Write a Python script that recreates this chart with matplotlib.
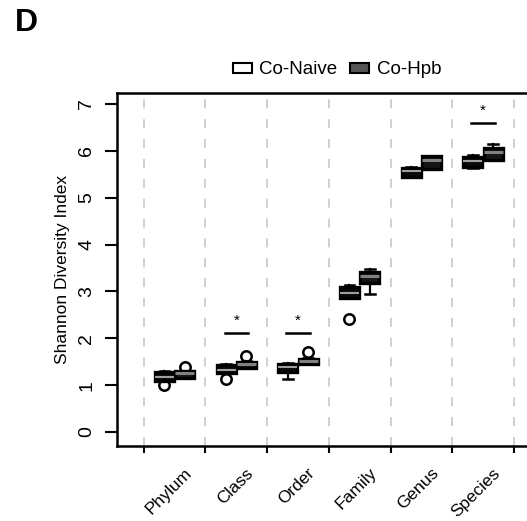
import numpy as np
import matplotlib.pyplot as plt
from matplotlib.patches import Patch
from matplotlib.transforms import blended_transform_factory

plt.rcParams["font.family"] = ["Liberation Sans", "DejaVu Sans"]

categories = ["Phylum", "Class", "Order", "Family", "Genus", "Species"]

# box stats (Co-Naive)
naive_whislo = [1.08, 1.25, 1.12, 2.86, 5.44, 5.64]
naive_q1 = [1.08, 1.25, 1.28, 2.86, 5.44, 5.65]
naive_med = [1.17, 1.33, 1.38, 2.97, 5.57, 5.78]
naive_q3 = [1.27, 1.42, 1.45, 3.09, 5.64, 5.86]
naive_whishi = [1.29, 1.44, 1.47, 3.14, 5.66, 5.91]
naive_fliers = [[1.00], [1.13], [], [2.40], [], []]

# Co-Hpb
hpb_whislo = [1.15, 1.37, 1.44, 2.95, 5.62, 5.80]
hpb_q1 = [1.15, 1.37, 1.44, 3.18, 5.62, 5.81]
hpb_med = [1.25, 1.46, 1.52, 3.33, 5.80, 5.97]
hpb_q3 = [1.30, 1.50, 1.56, 3.41, 5.88, 6.07]
hpb_whishi = [1.31, 1.51, 1.57, 3.47, 5.89, 6.14]
hpb_fliers = [[1.39], [1.63], [1.70], [], [], []]

# significance marks: category, bar height
sig_cats = ["Class", "Order", "Species"]
sig_y = [2.12, 2.12, 6.60]


def make_stats(lo, q1, med, q3, hi, fl):
    return [dict(whislo=a, q1=b, med=c, q3=d, whishi=e, fliers=f)
            for a, b, c, d, e, f in zip(lo, q1, med, q3, hi, fl)]


fig = plt.figure(figsize=(5.27, 5.21), dpi=100)
ax = fig.add_axes([0.222, 0.144, 0.80, 0.6775])

x = np.arange(1, len(categories) + 1)
off = 0.165
w = 0.31

boxprops = dict(linewidth=2.4, edgecolor="black")
common = dict(widths=w, patch_artist=True, showfliers=True,
              whiskerprops=dict(linewidth=1.6, color="black"),
              capprops=dict(linewidth=1.8, color="black"),
              flierprops=dict(marker="o", markersize=7.5, markerfacecolor="none",
                              markeredgecolor="black", markeredgewidth=1.8))

b1 = ax.bxp(make_stats(naive_whislo, naive_q1, naive_med, naive_q3, naive_whishi, naive_fliers),
            positions=x - off, boxprops=boxprops,
            medianprops=dict(color="#a0a0a0", linewidth=1.5), **common)
b2 = ax.bxp(make_stats(hpb_whislo, hpb_q1, hpb_med, hpb_q3, hpb_whishi, hpb_fliers),
            positions=x + off, boxprops=boxprops,
            medianprops=dict(color="#808080", linewidth=2.2), **common)
for p in b1["boxes"]:
    p.set_facecolor("#0a0a0a")
for p in b2["boxes"]:
    p.set_facecolor("#151515")
for lst in (b1["caps"], b2["caps"]):
    for c in lst:
        m = c.get_xdata().mean()
        c.set_xdata([m - w / 4, m + w / 4])

# significance
for cat, yv in zip(sig_cats, sig_y):
    i = categories.index(cat) + 1
    ax.plot([i - 0.19, i + 0.19], [yv, yv], color="black", lw=1.8)
    ax.text(i, yv + 0.1, "*", ha="center", va="bottom", fontsize=11)

# dashed separators
for s in np.arange(0.5, len(categories) + 1, 1):
    ax.axvline(s, color="#cdcdcd", ls=(0, (5, 6)), lw=1.3, zorder=0)

ax.set_xlim(0.067, 6.9)
ax.set_ylim(-0.30, 7.235)

ax.set_xticks(np.arange(0.5, len(categories) + 1, 1))
ax.set_xticklabels([])
ax.tick_params(axis="x", length=5, width=1.5, direction="out")
ax.set_yticks(range(0, 8))
ax.set_yticklabels([str(v) for v in range(0, 8)], rotation=90, va="center", fontsize=14)
ax.tick_params(axis="y", length=8.5, width=1.5, pad=7)

for sp in ["left", "bottom", "top"]:
    ax.spines[sp].set_linewidth(1.8)
ax.spines["right"].set_visible(False)

tr = blended_transform_factory(ax.transData, ax.transAxes)
for i, cat in enumerate(categories, start=1):
    ax.text(i + 0.15, -0.055, cat, transform=tr, rotation=45, ha="right", va="top",
            rotation_mode="anchor", fontsize=12.5)

ax.set_ylabel("Shannon Diversity Index", fontsize=12.5, labelpad=6)

handles = [Patch(facecolor="white", edgecolor="black", lw=1.5, label="Co-Naive"),
           Patch(facecolor="#555555", edgecolor="black", lw=1.5, label="Co-Hpb")]
fig.legend(handles=handles, loc="center", bbox_to_anchor=(337 / 527, 1 - 70 / 521),
           ncol=2, frameon=False, fontsize=13.5, handlelength=1.0, handleheight=0.4,
           columnspacing=0.7, handletextpad=0.4, borderpad=0)

fig.text(0.028, 0.985, "D", fontsize=23, fontweight="bold", va="top", ha="left")

fig.savefig("out.png", dpi=100)
